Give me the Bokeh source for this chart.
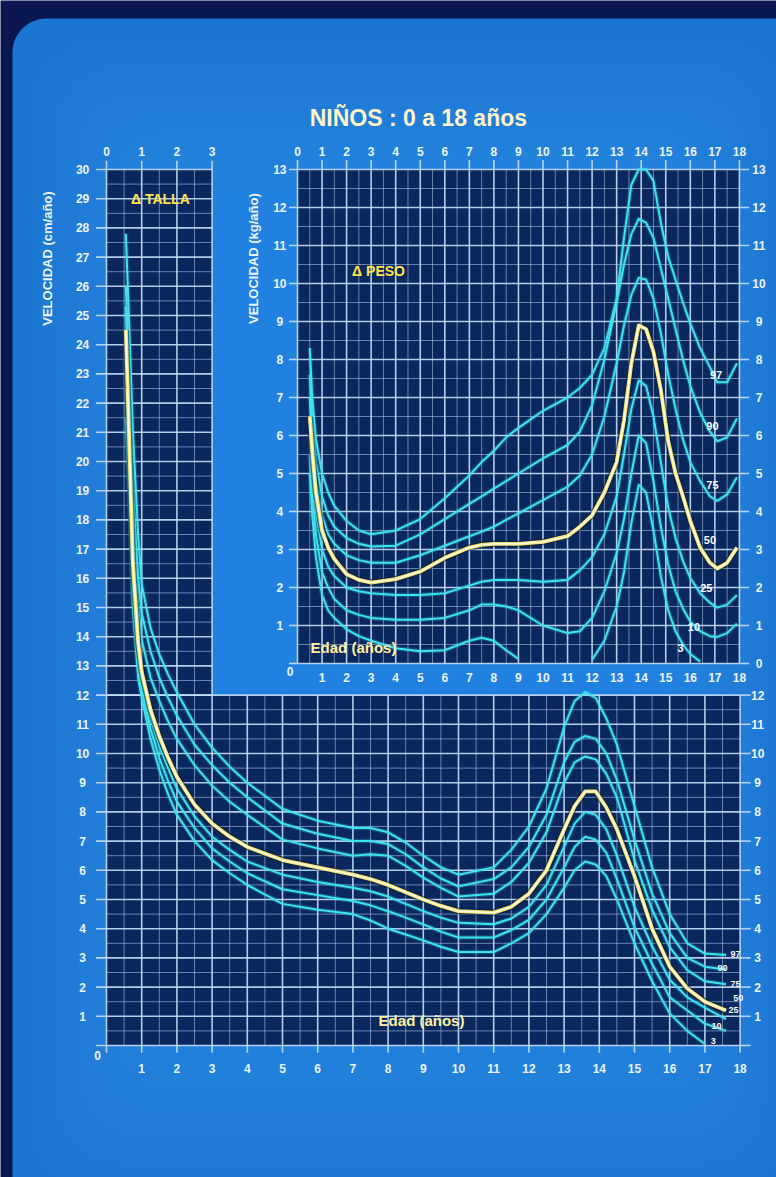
import numpy as np
from bokeh.plotting import figure
from bokeh.models import Range1d
from bokeh.core.properties import value
from bokeh.embed import file_html
from bokeh.resources import INLINE

NAN = float("nan")

# ---------------- texts ----------------
TITLE = "NIÑOS : 0 a 18 años"
TALLA_LABEL = "Δ TALLA"
PESO_LABEL = "Δ PESO"
X_TITLE = "Edad (años)"
TALLA_Y_TITLE = "VELOCIDAD (cm/año)"
PESO_Y_TITLE = "VELOCIDAD (kg/año)"
PERCENTILES = ["97", "90", "75", "50", "25", "10", "3"]

# ---------------- height velocity (cm/año) ----------------
T_AGE = [0.55, 0.65, 0.75, 0.9, 1.0, 1.25, 1.5, 1.75, 2.0, 2.5, 3.0, 3.5, 4.0, 5.0, 6.0,
         7.0, 7.5, 8.0, 8.5, 9.0, 9.5, 10.0, 11.0, 11.5, 12.0, 12.5, 13.0, 13.3, 13.6, 13.9,
         14.2, 14.5, 15.0, 15.5, 16.0, 16.5, 17.0, 17.6]
T_P97 = [27.8, 24.5, 21.0, 17.5, 15.8, 14.3, 13.4, 12.7, 12.1, 11.0, 10.2, 9.55, 9.0, 8.1, 7.7,
         7.45, 7.45, 7.3, 6.95, 6.5, 6.1, 5.85, 6.1, 6.7, 7.5, 8.8, 10.9, 11.8, 12.1, 11.9,
         11.2, 10.3, 8.2, 6.1, 4.5, 3.5, 3.15, 3.1]
T_P90 = [26.0, 22.5, 19.0, 16.0, 14.8, 13.5, 12.6, 11.9, 11.3, 10.3, 9.6, 9.0, 8.5, 7.6, 7.25,
         7.0, 7.0, 6.9, 6.55, 6.1, 5.72, 5.45, 5.7, 6.1, 6.8, 7.9, 9.7, 10.4, 10.6, 10.5,
         10.0, 9.1, 7.05, 5.2, 3.85, 3.0, 2.7, 2.6]
T_P75 = [25.3, 21.5, 17.8, 15.0, 13.9, 12.6, 11.8, 11.1, 10.5, 9.6, 8.9, 8.35, 7.9, 7.05, 6.75,
         6.5, 6.55, 6.5, 6.15, 5.75, 5.4, 5.1, 5.2, 5.6, 6.25, 7.3, 9.0, 9.7, 9.9, 9.8,
         9.3, 8.5, 6.35, 4.65, 3.37, 2.58, 2.2, 2.1]
T_P50 = [24.5, 20.5, 16.5, 13.8, 12.8, 11.5, 10.6, 9.85, 9.2, 8.25, 7.6, 7.15, 6.8, 6.35, 6.1,
         5.85, 5.7, 5.5, 5.25, 5.0, 4.78, 4.6, 4.55, 4.75, 5.2, 6.0, 7.4, 8.2, 8.7, 8.7,
         8.15, 7.4, 5.8, 4.0, 2.7, 1.95, 1.5, 1.2]
T_P25 = [23.5, 19.8, 16.0, 13.4, 12.5, 11.2, 10.25, 9.5, 8.8, 7.85, 7.15, 6.7, 6.3, 5.85, 5.6,
         5.4, 5.28, 5.1, 4.85, 4.6, 4.38, 4.2, 4.15, 4.35, 4.75, 5.5, 6.8, 7.6, 8.0, 7.9,
         7.4, 6.5, 4.75, 3.4, 2.25, 1.65, 1.3, 0.9]
T_P10 = [22.5, 19.2, 15.5, 13.0, 12.2, 10.85, 9.85, 9.05, 8.35, 7.45, 6.75, 6.3, 5.9, 5.35, 5.15,
         4.95, 4.8, 4.6, 4.38, 4.15, 3.9, 3.7, 3.7, 3.95, 4.3, 5.0, 6.1, 6.8, 7.15, 7.05,
         6.6, 5.7, 4.05, 2.8, 1.65, 1.2, 0.75, 0.5]
T_P3 = [21.5, 18.6, 15.0, 12.6, 11.9, 10.5, 9.45, 8.6, 7.9, 7.0, 6.35, 5.9, 5.5, 4.85, 4.65,
        4.5, 4.28, 4.0, 3.8, 3.6, 3.38, 3.2, 3.2, 3.5, 3.85, 4.5, 5.4, 6.0, 6.3, 6.2,
        5.8, 5.0, 3.5, 2.2, 1.1, 0.5, 0.05, NAN]

# ---------------- weight velocity (kg/año) ----------------
P_AGE = [0.5, 0.6, 0.75, 1.0, 1.25, 1.5, 2.0, 2.5, 3.0, 4.0, 5.0, 6.0, 7.0, 7.5, 8.0, 8.5, 9.0,
         10.0, 11.0, 11.5, 12.0, 12.5, 13.0, 13.3, 13.6, 13.9, 14.2, 14.5, 14.8, 15.1, 15.4,
         15.7, 16.0, 16.4, 16.8, 17.1, 17.5, 17.9]
P_P97 = [8.3, 7.0, 5.9, 5.0, 4.5, 4.15, 3.75, 3.5, 3.4, 3.5, 3.8, 4.35, 4.95, 5.3, 5.6, 5.95, 6.2,
         6.65, 7.0, 7.25, 7.6, 8.3, 9.6, 11.2, 12.6, 13.0, 13.0, 12.7, 11.6, 10.7, 10.1,
         9.5, 8.95, 8.3, 7.8, 7.4, 7.4, 7.9]
P_P90 = [7.6, 6.4, 5.3, 4.4, 3.9, 3.6, 3.3, 3.15, 3.08, 3.1, 3.4, 3.8, 4.2, 4.4, 4.6, 4.8, 5.0,
         5.4, 5.75, 6.1, 6.8, 8.0, 9.5, 10.5, 11.3, 11.7, 11.6, 11.2, 10.4, 9.6, 8.8,
         8.0, 7.3, 6.6, 6.1, 5.85, 5.95, 6.45]
P_P75 = [7.0, 6.0, 4.8, 3.9, 3.4, 3.15, 2.85, 2.72, 2.65, 2.65, 2.85, 3.1, 3.35, 3.47, 3.6, 3.78, 3.95,
         4.3, 4.65, 4.95, 5.5, 6.5, 7.9, 8.9, 9.7, 10.15, 10.1, 9.6, 8.7, 7.6, 6.7,
         5.9, 5.3, 4.8, 4.4, 4.28, 4.45, 4.9]
P_P50 = [6.5, 5.6, 4.5, 3.5, 3.05, 2.75, 2.35, 2.2, 2.13, 2.22, 2.42, 2.78, 3.05, 3.12, 3.15, 3.15, 3.15,
         3.2, 3.35, 3.6, 3.9, 4.5, 5.3, 6.4, 7.9, 8.9, 8.8, 8.2, 7.2, 5.85, 5.0,
         4.4, 3.75, 3.05, 2.65, 2.5, 2.65, 3.05]
P_P25 = [6.0, 5.1, 4.0, 3.0, 2.55, 2.3, 2.0, 1.9, 1.85, 1.8, 1.8, 1.85, 2.05, 2.15, 2.2, 2.2, 2.2,
         2.15, 2.2, 2.45, 2.8, 3.4, 4.4, 5.5, 6.7, 7.45, 7.3, 6.5, 5.3, 4.1, 3.3,
         2.7, 2.25, 1.85, 1.6, 1.47, 1.55, 1.8]
P_P10 = [5.5, 4.5, 3.4, 2.4, 2.0, 1.7, 1.4, 1.28, 1.2, 1.15, 1.15, 1.2, 1.4, 1.55, 1.55, 1.5, 1.4,
         1.0, 0.8, 0.85, 1.2, 1.9, 2.9, 3.8, 5.0, 6.0, 5.8, 4.8, 3.6, 2.6, 1.9,
         1.45, 1.1, 0.85, 0.72, 0.7, 0.8, 1.05]
P_P3 = [5.0, 3.9, 2.8, 1.8, 1.4, 1.2, 0.9, 0.72, 0.6, 0.4, 0.32, 0.35, 0.6, 0.68, 0.6, 0.35, 0.12,
        NAN, NAN, NAN, 0.1, 0.6, 1.5, 2.4, 3.7, 4.7, 4.5, 3.5, 2.3, 1.4, 0.85,
        0.5, 0.25, 0.05, NAN, NAN, NAN, NAN]

# ---------------- tick labels ----------------
T_LEFT_TICKS = list(range(1, 31))
T_RIGHT_TICKS = list(range(1, 13))
T_BOTTOM_TICKS = list(range(1, 19))
T_TOP_TICKS = [0, 1, 2, 3]
P_LEFT_TICKS = list(range(1, 14))
P_RIGHT_TICKS = list(range(0, 14))
P_TOP_TICKS = list(range(0, 19))
P_BOTTOM_TICKS = list(range(1, 19))

# ---------------- layout / style ----------------
W, H = 776, 1177
T_X0, T_SX = 106.0, 35.2    # canvas px of age 0 (talla), px per year
T_Y0, T_SY = 1045.0, 29.2   # canvas px (from top) of 0 cm, px per cm
P_X0, P_SX = 297.0, 24.55
P_Y0, P_SY = 663.0, 38.0

FONT = "Liberation Sans"
NAVY = "#0a1650"
BLUE = "#1a76d0"
GLOW = "#3ca2f4"
PANEL = "#0a285e"
GRID = "#c4def8"
CYAN = "#3fe3f0"
YELLOW = "#f3e57a"
TICK_COLOR = "#eaf4ff"
LABEL_YELLOW = "#ffe24a"

p = figure(width=W, height=H,
           x_range=Range1d(-T_X0 / T_SX, (W - T_X0) / T_SX),
           y_range=Range1d((T_Y0 - H) / T_SY, T_Y0 / T_SY),
           toolbar_location=None, output_backend="svg",
           x_axis_location=None, y_axis_location=None,
           min_border=0, outline_line_color=None,
           background_fill_color=NAVY, border_fill_color=NAVY)
p.extra_x_ranges = {"px": Range1d(-P_X0 / P_SX, (W - P_X0) / P_SX)}
p.extra_y_ranges = {"py": Range1d((P_Y0 - H) / P_SY, P_Y0 / P_SY)}
p.xgrid.visible = False
p.ygrid.visible = False
PR = dict(x_range_name="px", y_range_name="py")


def fig2t(fx, fy):
    return (np.asarray(fx) - T_X0) / T_SX, (T_Y0 - np.asarray(fy)) / T_SY


def rounded(l, r, t, b, rad, n=14):
    xs, ys = [], []
    for cx, cy, a0 in [(l + rad, t + rad, 180), (r - rad, t + rad, 270),
                       (r - rad, b - rad, 0), (l + rad, b - rad, 90)]:
        for k in range(n + 1):
            a = np.radians(a0 + 90 * k / n)
            xs.append(cx + rad * np.cos(a))
            ys.append(cy + rad * np.sin(a))
    return fig2t(xs, ys)


# photo background with soft centre glow
bx, by = rounded(12, 810, 18, 1230, 34)
p.patch(bx, by, fill_color=BLUE, line_color=None)
for i in range(1, 19):
    gx, gy = rounded(12 + 11 * i, 800 - 9 * i, 18 + 12 * i, 1220 - 14 * i, 60)
    p.patch(gx, gy, fill_color=GLOW, fill_alpha=0.03, line_color=None)

# dark panels
p.quad(left=[0, 0], right=[3, 18], bottom=[12, 0], top=[30, 12], fill_color=PANEL, line_color=None)
p.quad(left=[0], right=[18], bottom=[0], top=[13], fill_color=PANEL, line_color=None, **PR)


def add_grid(v_x, v_y0, v_y1, h_y, h_x0, h_x1, rng=None):
    kw = PR if rng else {}
    for major in (False, True):
        xs = [x for x in v_x if (abs(x - round(x)) < 1e-6) == major]
        ys = [y for y in h_y if (abs(y - round(y)) < 1e-6) == major]
        sx0 = xs + [h_x0] * len(ys)
        sx1 = xs + [h_x1] * len(ys)
        sy0 = [v_y0] * len(xs) + ys
        sy1 = [v_y1] * len(xs) + ys
        p.segment(x0=sx0, y0=sy0, x1=sx1, y1=sy1, line_color=GRID,
                  line_alpha=0.9 if major else 0.5, line_width=1.6 if major else 1.0, **kw)


half = lambda a, b: list(np.arange(a, b + 0.001, 0.5))
add_grid(half(0, 3), 12, 30, half(12, 30), 0, 3)
add_grid(half(0, 18), 0, 12, half(0, 12), 0, 18)
add_grid(half(0, 18), 0, 13, half(0, 13), 0, 18, rng=True)

# tick extensions
tk = dict(line_color=GRID, line_alpha=0.9, line_width=1.6)
p.segment(x0=[-0.3] * 31, y0=list(range(31)), x1=[0] * 31, y1=list(range(31)), **tk)
p.segment(x0=[18] * 13, y0=list(range(13)), x1=[18.3] * 13, y1=list(range(13)), **tk)
p.segment(x0=list(range(19)), y0=[-0.25] * 19, x1=list(range(19)), y1=[0] * 19, **tk)
p.segment(x0=[0, 1, 2, 3], y0=[30] * 4, x1=[0, 1, 2, 3], y1=[30.3] * 4, **tk)
p.segment(x0=[-0.35] * 14, y0=list(range(14)), x1=[0] * 14, y1=list(range(14)), **tk, **PR)
p.segment(x0=[18] * 14, y0=list(range(14)), x1=[18.4] * 14, y1=list(range(14)), **tk, **PR)
p.segment(x0=list(range(19)), y0=[13] * 19, x1=list(range(19)), y1=[13.25] * 19, **tk, **PR)

# curves
t_curves = [T_P97, T_P90, T_P75, T_P50, T_P25, T_P10, T_P3]
p_curves = [P_P97, P_P90, P_P75, P_P50, P_P25, P_P10, P_P3]
for curves, ages, kw in [(t_curves, T_AGE, {}), (p_curves, P_AGE, PR)]:
    a = np.array(ages, dtype=float)
    for i, vals in enumerate(curves):
        v = np.array(vals, dtype=float)
        if PERCENTILES[i] == "50":
            continue
        p.line(a, v, line_color=CYAN, line_width=4.5, line_alpha=0.22, line_join="round", **kw)
        p.line(a, v, line_color=CYAN, line_width=2.0, line_join="round", **kw)
    v50 = np.array(curves[3], dtype=float)
    p.line(a, v50, line_color="#102030", line_width=6.5, line_alpha=0.55, line_join="round", **kw)
    p.line(a, v50, line_color=YELLOW, line_width=3.8, line_join="round", **kw)
    p.line(a, v50, line_color="#fffbe6", line_width=1.4, line_join="round", **kw)


def label(xs, ys, texts, size, color, rng=False, angle=0.0, align="center", style="bold"):
    kw = PR if rng else {}
    p.text(x=list(xs), y=list(ys), text=[str(t) for t in texts],
           text_font=value(FONT), text_font_size=size, text_font_style=style,
           text_color=color, text_align=align, text_baseline="middle", angle=angle, **kw)


# tick labels: talla
label([-0.68] * len(T_LEFT_TICKS), T_LEFT_TICKS, T_LEFT_TICKS, "12px", TICK_COLOR)
label([-0.25], [-0.35], [0], "12px", TICK_COLOR)
label([18.5] * len(T_RIGHT_TICKS), T_RIGHT_TICKS, T_RIGHT_TICKS, "12px", TICK_COLOR)
label(T_BOTTOM_TICKS, [-0.8] * len(T_BOTTOM_TICKS), T_BOTTOM_TICKS, "12px", TICK_COLOR)
label(T_TOP_TICKS, [30.62] * len(T_TOP_TICKS), T_TOP_TICKS, "12px", TICK_COLOR)
# tick labels: peso
label([-0.72] * len(P_LEFT_TICKS), P_LEFT_TICKS, P_LEFT_TICKS, "12px", TICK_COLOR, rng=True)
label([-0.3], [-0.2], [0], "12px", TICK_COLOR, rng=True)
label([18.8] * len(P_RIGHT_TICKS), P_RIGHT_TICKS, P_RIGHT_TICKS, "12px", TICK_COLOR, rng=True)
label(P_TOP_TICKS, [13.47] * len(P_TOP_TICKS), P_TOP_TICKS, "12px", TICK_COLOR, rng=True)
label(P_BOTTOM_TICKS, [-0.38] * len(P_BOTTOM_TICKS), P_BOTTOM_TICKS, "12px", TICK_COLOR, rng=True)

# titles
label([8.86], [31.78], [TITLE], "23px", "#fff5c8")
label([-1.68], [26.95], [TALLA_Y_TITLE], "13px", TICK_COLOR, angle=np.pi / 2)
label([4.17], [26.95], [PESO_Y_TITLE], "13px", TICK_COLOR, angle=np.pi / 2)
label([1.53], [29.0], [TALLA_LABEL], "14px", LABEL_YELLOW)
label([3.3], [10.34], [PESO_LABEL], "14px", LABEL_YELLOW, rng=True)
label([2.28], [0.42], [X_TITLE], "15px", "#fff0a0", rng=True)
label([8.95], [0.86], [X_TITLE], "15px", "#fff0a0")

# percentile tags
label([17.05, 16.9, 16.9, 16.8, 16.65, 16.15, 15.6], [7.6, 6.25, 4.7, 3.25, 2.0, 0.95, 0.4],
      PERCENTILES, "11px", "#f6faff", rng=True)
label([17.87, 17.5, 17.87, 17.95, 17.81, 17.33, 17.24], [3.15, 2.67, 2.12, 1.64, 1.2, 0.68, 0.17],
      PERCENTILES, "9px", "#f6faff")

open("out.html", "w").write(file_html(p, INLINE))
